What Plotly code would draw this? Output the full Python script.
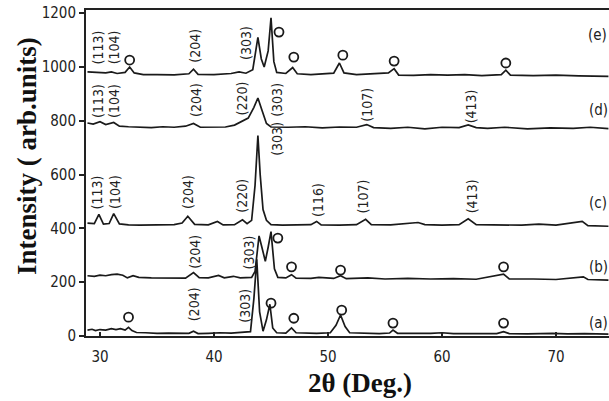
import plotly.graph_objects as go

# ---------------- data ----------------
x_a = [28.9, 29.3, 29.6, 30.0, 30.5, 31.0, 31.4, 31.8, 32.2, 32.5, 32.8, 33.2, 34.0, 35.0, 36.0, 37.0, 37.8, 38.2, 38.6,
       39.5, 40.5, 41.5, 42.5, 43.2, 43.5, 43.75, 44.0, 44.3, 44.6, 44.9, 45.15, 45.5, 46.3, 46.8, 47.2, 48.0, 49.0,
       50.2, 50.7, 51.1, 51.5, 51.9, 53.0, 54.5, 55.4, 55.7, 56.1, 57.5, 59.0, 60.0, 61.0, 63.0, 64.8, 65.4, 65.9,
       67.5, 69.7, 71.0, 72.5, 74.6]
y_a = [22, 25, 20, 24, 22, 27, 24, 27, 22, 32, 20, 13, 12, 10, 11, 9, 10, 18, 9,
       10, 12, 11, 13, 16, 140, 285, 90, 18, 60, 118, 30, 12, 11, 30, 12, 10, 10,
       12, 40, 78, 35, 12, 10, 9, 11, 22, 10, 9, 10, 12, 9, 9, 9, 16, 9,
       8, 10, 8, 9, 7]

x_b = [28.9, 29.5, 30.0, 30.5, 31.0, 31.5, 32.0, 32.4, 32.9, 33.4, 34.5, 35.5, 36.5, 37.5, 38.2, 38.7, 39.5, 40.4,
       40.9, 41.7, 42.3, 43.3, 43.6, 43.95, 44.2, 44.5, 44.75, 45.0, 45.3, 45.6, 46.3, 46.8, 47.2, 48.5, 49.2, 50.5,
       51.1, 51.6, 53.5, 55.0, 57.0, 59.0, 61.0, 63.0, 65.4, 65.9, 68.0, 70.0, 72.4, 72.8, 74.6]
y_b = [224, 222, 226, 224, 228, 230, 226, 216, 224, 218, 216, 215, 216, 215, 236, 217, 216, 225,
       216, 222, 216, 218, 240, 372, 330, 278, 330, 388, 250, 218, 216, 228, 215, 214, 218, 214,
       224, 213, 216, 212, 214, 212, 213, 211, 230, 212, 212, 210, 220, 210, 208]

x_c = [28.9, 29.5, 29.9, 30.3, 30.8, 31.2, 31.7, 32.5, 33.5, 34.5, 35.5, 36.5, 37.2, 37.7, 38.3, 39.5, 40.3, 40.8,
       41.8, 42.5, 42.9, 43.3, 43.6, 43.85, 44.05, 44.3, 44.6, 45.0, 46.0, 47.0, 48.5, 49.0, 49.4, 51.0, 52.5, 53.3,
       53.8, 55.5, 57.9, 58.5, 60.0, 61.5, 62.3, 63.0, 65.0, 67.0, 68.5, 70.0, 72.3, 72.8, 74.6]
y_c = [420, 418, 452, 416, 418, 455, 417, 413, 412, 413, 412, 414, 420, 445, 415, 413, 426, 413,
       414, 432, 418, 430, 560, 745, 600, 470, 430, 414, 412, 413, 414, 426, 413, 412, 414, 434,
       414, 413, 422, 414, 412, 414, 436, 414, 412, 412, 416, 412, 426, 410, 408]

x_d = [28.9, 29.4, 30.0, 30.5, 31.2, 31.7, 32.5, 33.5, 34.5, 35.5, 36.5, 37.5, 38.2, 38.8, 40.0, 41.0, 41.8, 42.4,
       43.0, 43.5, 43.85, 44.2, 44.6, 45.0, 46.5, 48.0, 49.5, 51.0, 52.5, 53.4, 54.0, 55.5, 57.0, 58.5, 60.0, 61.5,
       62.3, 63.0, 64.0, 65.5, 67.5, 69.5, 71.5, 73.0, 74.6]
y_d = [792, 788, 797, 786, 794, 780, 778, 776, 775, 778, 776, 780, 790, 776, 776, 777, 784, 798,
       810, 850, 885, 840, 790, 777, 776, 778, 774, 777, 776, 786, 775, 772, 776, 770, 776, 775,
       785, 775, 772, 776, 770, 774, 772, 776, 771]

x_e = [28.9, 29.5, 30.5, 31.0, 31.5, 32.2, 32.6, 33.0, 33.8, 35.0, 36.5, 37.8, 38.2, 38.6, 40.0, 41.5, 42.2, 42.8,
       43.4, 43.85, 44.15, 44.4, 44.75, 45.0, 45.25, 45.5, 46.3, 46.9, 47.3, 48.5, 49.5, 50.5, 51.0, 51.4, 52.5,
       54.0, 55.3, 55.8, 56.2, 57.5, 59.0, 60.5, 62.0, 63.5, 65.2, 65.6, 66.0, 68.0, 70.0, 72.0, 74.6]
y_e = [982, 980, 978, 982, 976, 980, 1000, 978, 972, 972, 971, 975, 992, 973, 972, 976, 982, 977,
       990, 1110, 1030, 1000, 1060, 1183, 1020, 980, 976, 998, 975, 972, 975, 977, 1015, 978, 972,
       974, 978, 994, 970, 969, 972, 970, 972, 968, 972, 988, 970, 968, 970, 967, 965]

# open-circle phase markers
circ_x = [32.6, 45.7, 47.0, 51.3, 55.8, 65.6,
          45.6, 46.8, 51.1, 65.4,
          32.5, 45.0, 47.0, 51.2, 55.7, 65.4]
circ_y = [1026, 1130, 1037, 1044, 1022, 1015,
          364, 257, 245, 257,
          70, 122, 66, 96, 48, 48]

# Miller-index labels: (text, x, y)
hkl_text = ["(113)", "(104)", "(204)", "(303)",
            "(113)", "(104)", "(204)", "(220)", "(303)", "(107)", "(413)",
            "(113)", "(104)", "(204)", "(220)", "(303)", "(116)", "(107)", "(413)",
            "(204)", "(303)",
            "(204)", "(303)"]
hkl_x = [29.8, 31.2, 38.3, 42.8,
         29.8, 31.2, 38.4, 42.5, 45.5, 53.4, 62.5,
         29.7, 31.3, 37.7, 42.5, 45.5, 49.1, 53.1, 62.6,
         38.3, 43.1,
         38.2, 42.7]
hkl_y = [1072, 1072, 1078, 1089,
         873, 873, 877, 881, 877, 859, 852,
         532, 535, 535, 520, 732, 505, 520, 518,
         312, 312,
         116, 112]

sample_text = ["(a)", "(b)", "(c)", "(d)", "(e)"]
sample_x = [73.7, 73.7, 73.7, 73.7, 73.6]
sample_y = [50, 257, 494, 840, 1119]

y_ticks = [0, 200, 400, 600, 800, 1000, 1200]
x_ticks = [30, 40, 50, 60, 70]

# ---------------- figure ----------------
fig = go.Figure()
line_style = dict(color="#1a1a1a", width=1.7)
for xs, ys, nm in [(x_a, y_a, "a"), (x_b, y_b, "b"), (x_c, y_c, "c"), (x_d, y_d, "d"), (x_e, y_e, "e")]:
    fig.add_trace(go.Scatter(x=xs, y=ys, mode="lines", line=line_style, name=nm, showlegend=False,
                             hoverinfo="skip"))

fig.add_trace(go.Scatter(x=circ_x, y=circ_y, mode="markers", showlegend=False, hoverinfo="skip",
                         marker=dict(symbol="circle-open", size=9, color="#1a1a1a",
                                     line=dict(width=1.8, color="#1a1a1a"))))

small_font = dict(family="DejaVu Sans Condensed, Liberation Sans Narrow, DejaVu Sans", size=14, color="#222")
for t, x, y in zip(hkl_text, hkl_x, hkl_y):
    fig.add_annotation(x=x, y=y, text=t, textangle=-90, showarrow=False, font=small_font,
                       xanchor="center", yanchor="middle")
for t, x, y in zip(sample_text, sample_x, sample_y):
    fig.add_annotation(x=x, y=y, text=t, showarrow=False, font=dict(small_font, size=15),
                       xanchor="center", yanchor="middle")

title_font = dict(family="Liberation Serif, Times New Roman, serif", size=27, color="#111")
fig.add_annotation(xref="paper", yref="paper", x=-0.113, y=0.552, text="<b>Intensity ( arb.units)</b>",
                   textangle=-90, showarrow=False, font=title_font, xanchor="center", yanchor="middle")
fig.add_annotation(xref="x", yref="paper", x=52.8, y=-0.144, text="<b>2θ (Deg.)</b>",
                   showarrow=False, font=title_font, xanchor="center", yanchor="middle")

fig.update_layout(
    width=609, height=401,
    margin=dict(l=86, r=0, t=10, b=65),
    paper_bgcolor="white", plot_bgcolor="white",
    xaxis=dict(range=[28.77, 74.65], tickvals=x_ticks, ticks="inside", ticklen=4, tickwidth=1.5,
               tickcolor="#222", showline=True, linecolor="#222", linewidth=2, mirror=True,
               showgrid=False, zeroline=False, tickfont=dict(small_font, size=15), ticklabelstandoff=6),
    yaxis=dict(range=[0, 1212], tickvals=y_ticks, ticks="outside", ticklen=5, tickwidth=1.5,
               tickcolor="#222", showline=True, linecolor="#222", linewidth=2,
               showgrid=False, zeroline=False, tickfont=dict(small_font, size=15)),
)

fig.write_html("out.html", config={"displayModeBar": False},
               post_script="document.body.style.margin='0';document.body.style.overflow='hidden';")
